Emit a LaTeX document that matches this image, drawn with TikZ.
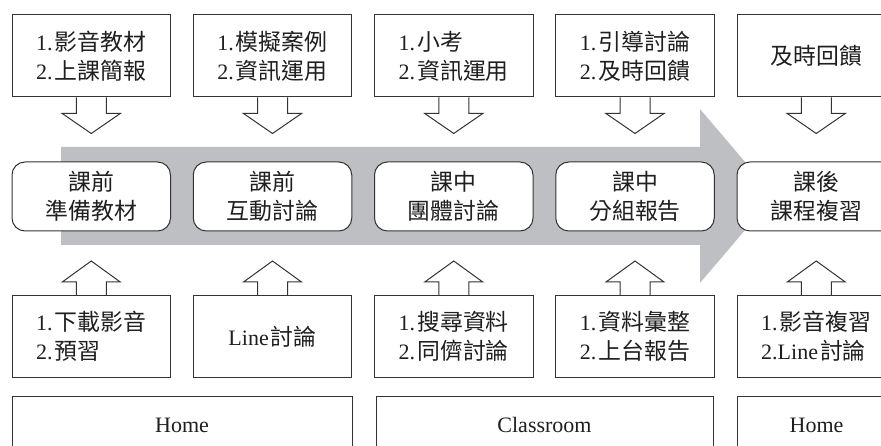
\documentclass[tikz,border=0pt]{standalone}
\usepackage{fontspec}
\setmainfont{Liberation Serif}
\newfontfamily\cjk[Scale=1.04]{Noto Sans CJK TC}
\usetikzlibrary{calc}
\newcommand\zh[1]{{\cjk #1}}
\newcommand\nm[1]{#1.\kern2pt}
\definecolor{linec}{HTML}{333333}
\definecolor{bandc}{RGB}{190,191,194}
\begin{document}
\begin{tikzpicture}[x=1pt,y=-1pt,
  ln/.style={draw=linec, line width=1pt},
  txt/.style={font=\fontsize{22}{29}\selectfont, text=black!88},
  infobox/.style={ln, txt, fill=white, minimum width=158.5pt, minimum height=82pt, align=left, inner sep=0pt},
  stagebox/.style={ln, txt, fill=white, rounded corners=13pt, minimum width=158.5pt, minimum height=69pt, align=center, inner sep=0pt, font=\fontsize{22}{28.5}\selectfont},
  placebox/.style={ln, txt, fill=white, minimum height=58pt, inner sep=0pt},
  blockarrow/.style={ln, line join=miter}
]
\useasboundingbox (0,0) rectangle (881,446);
\clip (0,0) rectangle (881,446);
\fill[white] (0,0) rectangle (881,446);

% big gray process arrow
\fill[bandc] (61,147) -- (700,147) -- (700,109) -- (774,196) -- (700,283) -- (700,245) -- (61,245) -- cycle;

% top boxes
\node[infobox] (t1) at (91.25,56) {\nm1\zh{影音教材}\\\nm2\zh{上課簡報}};
\node[infobox] (t2) at (272.5,56) {\nm1\zh{模擬案例}\\\nm2\zh{資訊運用}};
\node[infobox] (t3) at (453.75,56) {\nm1\zh{小考}\\\nm2\zh{資訊運用}};
\node[infobox] (t4) at (635,56) {\nm1\zh{引導討論}\\\nm2\zh{及時回饋}};
\node[infobox] (t5) at (816.25,56) {\zh{及時回饋}};

% stage boxes
\node[stagebox] (m1) at (91.25,196.5) {\zh{課前}\\\zh{準備教材}};
\node[stagebox] (m2) at (272.5,196.5) {\zh{課前}\\\zh{互動討論}};
\node[stagebox] (m3) at (453.75,196.5) {\zh{課中}\\\zh{團體討論}};
\node[stagebox] (m4) at (635,196.5) {\zh{課中}\\\zh{分組報告}};
\node[stagebox] (m5) at (816.25,196.5) {\zh{課後}\\\zh{課程複習}};

% bottom boxes
\node[infobox] (b1) at (91.25,336.5) {\nm1\zh{下載影音}\\\nm2\zh{預習}};
\node[infobox] (b2) at (272.5,336.5) {Line\kern2pt\zh{討論}};
\node[infobox] (b3) at (453.75,336.5) {\nm1\zh{搜尋資料}\\\nm2\zh{同儕討論}};
\node[infobox] (b4) at (635,336.5) {\nm1\zh{資料彙整}\\\nm2\zh{上台報告}};
\node[infobox] (b5) at (816.25,336.5) {\nm1\zh{影音複習}\\2.Line\kern2pt\zh{討論}};

% place boxes
\node[placebox, minimum width=340pt] (p1) at (182,425) {Home};
\node[placebox, minimum width=337pt] (p2) at (544.5,425) {Classroom};
\node[placebox, minimum width=159pt] (p3) at (816.5,425) {Home};

% block arrows
\foreach \i in {1,...,5} {
  \draw[blockarrow] ($(t\i.south)+(-15,0)$) -- ++(0,16) -- ++(-14,0)
     -- ($(t\i.south)+(0,36)$) -- ($(t\i.south)+(29,16)$) -- ++(-14,0) -- ++(0,-16);
  \draw[blockarrow] ($(b\i.north)+(-15,0)$) -- ++(0,-13) -- ++(-14,0)
     -- ($(b\i.north)+(0,-34)$) -- ($(b\i.north)+(29,-13)$) -- ++(-14,0) -- ++(0,13);
}
\end{tikzpicture}
\end{document}
